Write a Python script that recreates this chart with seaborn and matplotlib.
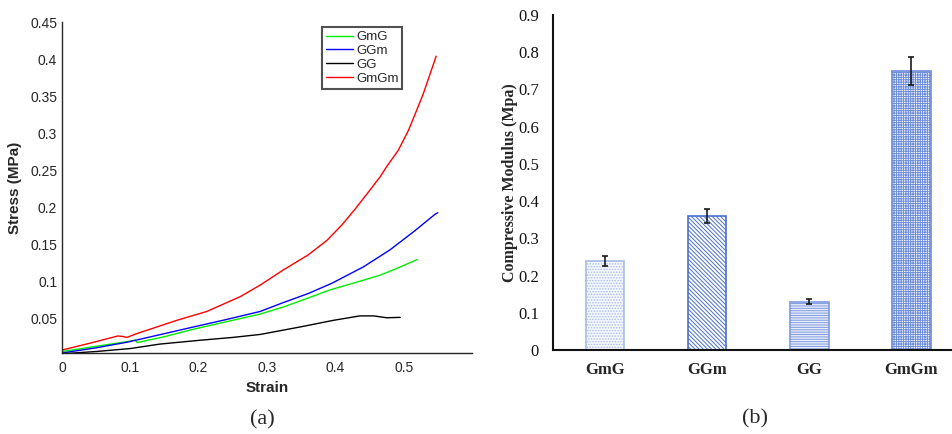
import matplotlib
matplotlib.use("Agg")
import matplotlib.pyplot as plt
import numpy as np
import pandas as pd
import seaborn as sns

# --- (a) stress-strain curves ---
gmg_strain = [0.0, 0.05, 0.1, 0.107, 0.11, 0.15, 0.192, 0.24, 0.29, 0.324, 0.36, 0.392, 0.426, 0.466, 0.49, 0.52]
gmg_stress = [0.006, 0.013, 0.020, 0.0215, 0.018, 0.026, 0.036, 0.046, 0.0565, 0.066, 0.078, 0.089, 0.098, 0.109, 0.118, 0.130]

ggm_strain = [0.0, 0.05, 0.095, 0.14, 0.192, 0.24, 0.29, 0.324, 0.36, 0.395, 0.441, 0.48, 0.514, 0.546, 0.55]
ggm_stress = [0.004, 0.011, 0.0185, 0.028, 0.039, 0.049, 0.060, 0.072, 0.084, 0.098, 0.120, 0.143, 0.167, 0.191, 0.193]

gg_strain = [0.0, 0.05, 0.1, 0.143, 0.2, 0.25, 0.29, 0.348, 0.397, 0.436, 0.456, 0.475, 0.495]
gg_stress = [0.003, 0.006, 0.010, 0.016, 0.021, 0.025, 0.029, 0.039, 0.048, 0.054, 0.054, 0.0515, 0.052]

gmgm_strain = [0.0, 0.04, 0.082, 0.09, 0.095, 0.109, 0.168, 0.212, 0.261, 0.29, 0.324, 0.36, 0.388,
               0.41, 0.429, 0.446, 0.466, 0.475, 0.492, 0.507, 0.519, 0.529, 0.539, 0.5476]
gmgm_stress = [0.008, 0.017, 0.027, 0.026, 0.025, 0.030, 0.048, 0.060, 0.080, 0.0955, 0.116, 0.136, 0.156,
               0.177, 0.198, 0.218, 0.242, 0.255, 0.277, 0.304, 0.331, 0.354, 0.381, 0.404]

# --- (b) compressive modulus ---
groups = ["GmG", "GGm", "GG", "GmGm"]
modulus = [0.24, 0.36, 0.13, 0.75]
modulus_err = [0.013, 0.019, 0.007, 0.038]

sns.set_style("white")
plt.rcParams["hatch.linewidth"] = 0.7

fig = plt.figure(figsize=(9.52, 4.34), dpi=100)
ax1 = fig.add_axes([62 / 952, 1 - 353 / 434, 410 / 952, 331 / 434])
ax2 = fig.add_axes([553 / 952, 1 - 350 / 434, 399 / 952, 335 / 434])

# left panel
curves = [("GmG", gmg_strain, gmg_stress, "#00ee00"),
          ("GGm", ggm_strain, ggm_stress, "#0000ff"),
          ("GG", gg_strain, gg_stress, "#000000"),
          ("GmGm", gmgm_strain, gmgm_stress, "#ff0000")]
for name, xs, ys, col in curves:
    sns.lineplot(x=xs, y=ys, ax=ax1, color=col, linewidth=1.0, label=name, sort=False)

ax1.set_xlim(0, 0.6)
ax1.set_ylim(0.004, 0.45)
ax1.set_xticks([0, 0.1, 0.2, 0.3, 0.4, 0.5])
ax1.set_xticklabels(["0", "0.1", "0.2", "0.3", "0.4", "0.5"])
ax1.set_yticks(np.arange(0.05, 0.46, 0.05))
ax1.set_yticklabels(["0.05", "0.1", "0.15", "0.2", "0.25", "0.3", "0.35", "0.4", "0.45"])
for lab in ax1.get_xticklabels() + ax1.get_yticklabels():
    lab.set_family("Liberation Sans")
    lab.set_fontsize(10)
    lab.set_color("#262626")
ax1.tick_params(direction="in", length=4, width=0.8, colors="#262626", labelcolor="#262626")
ax1.tick_params(axis="x", pad=6)
ax1.set_xlabel("Strain", family="Liberation Sans", fontweight="bold", fontsize=11, labelpad=4)
ax1.set_ylabel("Stress (MPa)", family="Liberation Sans", fontweight="bold", fontsize=11, labelpad=6)
for s in ["top", "right"]:
    ax1.spines[s].set_visible(False)
for s in ["left", "bottom"]:
    ax1.spines[s].set_linewidth(1.0)
    ax1.spines[s].set_color("#262626")
leg = ax1.legend(loc="upper left", bbox_to_anchor=(0.635, 0.985), frameon=True, fancybox=False,
                 prop={"family": "Liberation Sans", "size": 9.5}, handlelength=2.0,
                 handletextpad=0.25, borderpad=0.3, labelspacing=0.12, borderaxespad=0)
leg.get_frame().set_edgecolor("#262626")
leg.get_frame().set_linewidth(1.5)

# right panel
df = pd.DataFrame({"group": groups, "modulus": modulus})
sns.barplot(data=df, x="group", y="modulus", ax=ax2, errorbar=None, width=0.38,
            color="white", saturation=1)
hatches = ["......", "\\\\\\\\\\\\\\\\", "-------", "+++++++"]
edges = ["#a8bce6", "#4a6fd0", "#7f9be0", "#6d8ddb"]
faces = ["#f4f7fd", "#ffffff", "#e6ecf9", "#ffffff"]
for patch, h, ec, fc in zip(ax2.patches, hatches, edges, faces):
    patch.set_hatch(h)
    patch.set_edgecolor(ec)
    patch.set_facecolor(fc)
    patch.set_linewidth(1.2)
ax2.errorbar(range(len(groups)), modulus, yerr=modulus_err, fmt="none", ecolor="#1a1a1a",
             elinewidth=1.2, capsize=2.2, capthick=1.2)

ax2.set_xlim(-0.51, 3.40)
ax2.set_ylim(0, 0.9)
ax2.set_yticks(np.arange(0, 0.91, 0.1))
ax2.set_yticklabels(["0", "0.1", "0.2", "0.3", "0.4", "0.5", "0.6", "0.7", "0.8", "0.9"])
ax2.tick_params(axis="y", direction="out", length=4, width=1.2, colors="#111111", pad=6)
ax2.tick_params(axis="x", length=0, pad=9)
for lab in ax2.get_yticklabels():
    lab.set_family("Liberation Serif")
    lab.set_fontsize(12)
for lab in ax2.get_xticklabels():
    lab.set_family("Liberation Serif")
    lab.set_fontsize(12)
    lab.set_fontweight("bold")
ax2.set_xlabel("")
ax2.set_ylabel("Compressive Modulus (Mpa)", family="Liberation Serif", fontweight="bold",
               fontsize=11.5, labelpad=0)
for s in ["top", "right"]:
    ax2.spines[s].set_visible(False)
for s in ["left", "bottom"]:
    ax2.spines[s].set_linewidth(1.5)
    ax2.spines[s].set_color("#111111")

fig.text(262 / 952, 1 - 420 / 434, "(a)", family="Liberation Serif", fontsize=16, ha="center", va="center")
fig.text(755 / 952, 1 - 419 / 434, "(b)", family="Liberation Serif", fontsize=16, ha="center", va="center")

fig.savefig("out.png", dpi=100)
